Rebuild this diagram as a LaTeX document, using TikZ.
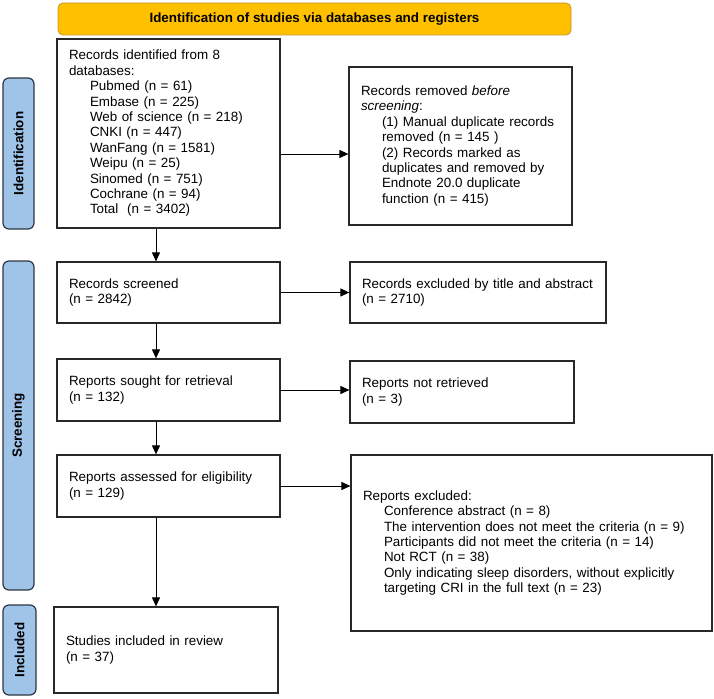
\documentclass[tikz,border=0pt]{standalone}
\usepackage{fontspec}
\setmainfont{Liberation Sans}
\usetikzlibrary{arrows.meta}
\definecolor{hdrfill}{RGB}{255,192,0}
\definecolor{hdrdraw}{RGB}{196,150,40}
\definecolor{sidefill}{RGB}{160,195,232}
\definecolor{sidedraw}{RGB}{45,55,68}
\definecolor{boxdraw}{RGB}{40,40,40}
\newcommand{\ind}{\hspace*{21pt}}
\tikzset{
  box/.style={draw=boxdraw, line width=1.2pt, fill=white, inner xsep=12pt, inner ysep=0pt,
    align=left, font=\fontsize{13.4}{15.4}\selectfont},
  side/.style={draw=sidedraw, line width=1.2pt, fill=sidefill, rounded corners=6pt, rotate=90,
    inner sep=0pt, font=\bfseries\fontsize{13.4}{15.4}\selectfont},
  hdr/.style={draw=hdrdraw, line width=0.8pt, fill=hdrfill, rounded corners=5pt, inner sep=0pt,
    font=\bfseries\fontsize{13.4}{15.4}\selectfont},
  arr/.style={draw=black, line width=1pt, -{Triangle[length=9pt,width=8pt]}}
}
\begin{document}
\begin{tikzpicture}[x=1pt,y=-1pt]
\useasboundingbox (0,0) rectangle (714,698);
\node[hdr, minimum width=513pt, minimum height=32pt] (hdr) at (314.5,19) {Identification of studies via databases and registers};
\node[side, minimum width=151pt, minimum height=31pt] (lid) at (18.5,153.5) {Identification};
\node[side, minimum width=329pt, minimum height=31pt] (lsc) at (18.5,425.5) {Screening};
\node[side, minimum width=90pt, minimum height=33pt] (lin) at (19.5,650) {Included};

\node[box, minimum width=223pt, minimum height=189pt, text width=199pt] (b1) at (168.5,133.5) {Records identified from 8\\ databases:\\
\ind Pubmed (n = 61)\\ \ind Embase (n = 225)\\ \ind Web of science (n = 218)\\ \ind CNKI (n = 447)\\
\ind WanFang (n = 1581)\\ \ind Weipu (n = 25)\\ \ind Sinomed (n = 751)\\ \ind Cochrane (n = 94)\\ \ind Total\ \ (n = 3402)};
\node[box, minimum width=223pt, minimum height=158pt, text width=199pt] (rem) at (460.5,146) {Records removed \textit{before}\\ \textit{screening}:\\
\ind (1) Manual duplicate records\\ \ind removed (n = 145 )\\ \ind (2) Records marked as\\ \ind duplicates and removed by\\
\ind Endnote 20.0 duplicate\\ \ind function (n = 415)};

\node[box, minimum width=223pt, minimum height=61pt, text width=199pt] (scr) at (168.5,292.5) {Records screened\\ (n = 2842)};
\node[box, minimum width=256pt, minimum height=61pt, text width=232pt] (exc1) at (478,292.5) {Records excluded by title and abstract\\ (n = 2710)};

\node[box, minimum width=223pt, minimum height=62pt, text width=199pt] (sou) at (168.5,390) {Reports sought for retrieval\\ (n = 132)};
\node[box, minimum width=224pt, minimum height=62pt, text width=200pt] (nr) at (462,392) {Reports not retrieved\\ (n = 3)};

\node[box, minimum width=223pt, minimum height=62pt, text width=199pt] (ass) at (168.5,486) {Reports assessed for eligibility\\ (n = 129)};
\node[box, minimum width=361pt, minimum height=176pt, text width=337pt] (exc2) at (531.5,543) {Reports excluded:\\
\ind Conference abstract (n = 8)\\ \ind The intervention does not meet the criteria (n = 9)\\
\ind Participants did not meet the criteria (n = 14)\\ \ind Not RCT (n = 38)\\
\ind Only indicating sleep disorders, without explicitly\\ \ind targeting CRI in the full text (n = 23)};

\node[box, minimum width=224pt, minimum height=86pt, text width=200pt] (inc) at (166,650) {Studies included in review\\ (n = 37)};

\draw[arr] ([yshift=-8pt]rem.west -| b1.east) -- ([yshift=-8pt]rem.west);
\draw[arr] (scr.east) -- (exc1.west);
\draw[arr] (sou.east) -- (sou.east -| nr.west);
\draw[arr] (ass.east) -- (ass.east -| exc2.west);
\draw[arr] ([xshift=-12.5pt]b1.south) -- ([xshift=-12.5pt]b1.south |- scr.north);
\draw[arr] ([xshift=-12.5pt]scr.south) -- ([xshift=-12.5pt]scr.south |- sou.north);
\draw[arr] ([xshift=-12.5pt]sou.south) -- ([xshift=-12.5pt]sou.south |- ass.north);
\draw[arr] ([xshift=-12.5pt]ass.south) -- ([xshift=-12.5pt]ass.south |- inc.north);
\end{tikzpicture}
\end{document}
